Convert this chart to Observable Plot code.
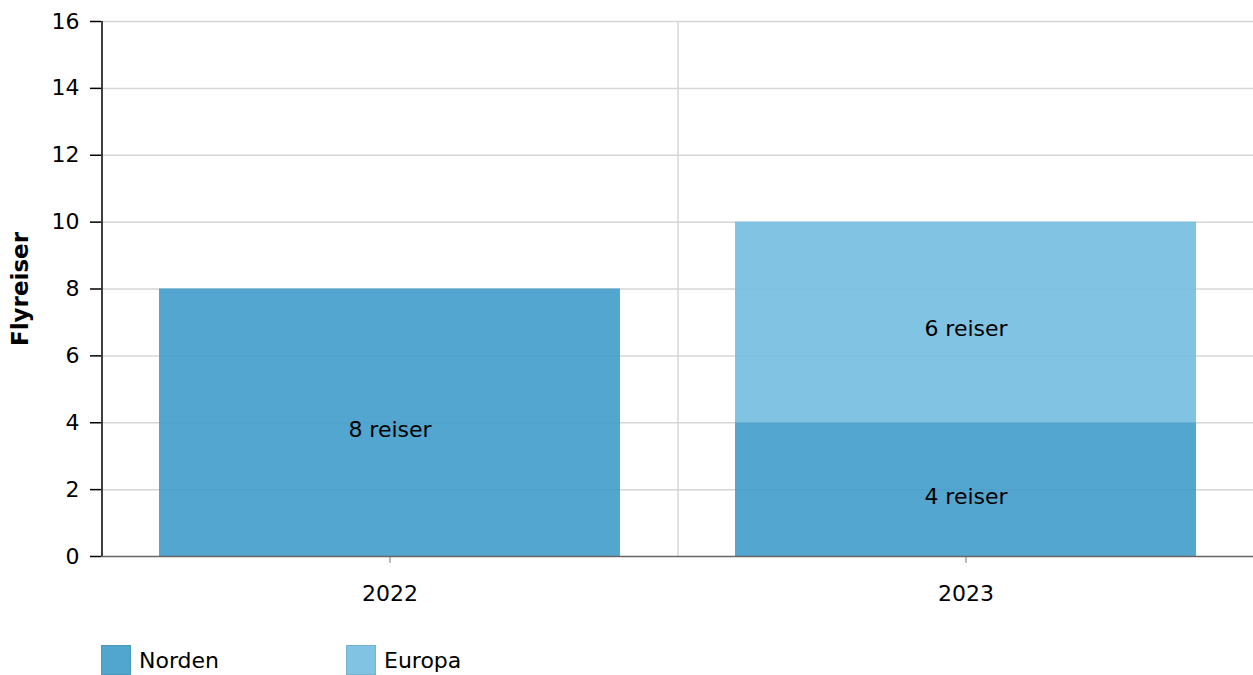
<!DOCTYPE html>
<html>
<head>
<meta charset="utf-8">
<script src="https://cdn.jsdelivr.net/npm/d3@7"></script>
<script src="https://cdn.jsdelivr.net/npm/@observablehq/plot@0.6"></script>
<style>
  html, body { margin: 0; padding: 0; background: #fff; }
  body { width: 1253px; height: 675px; overflow: hidden; font-family: "DejaVu Sans", Verdana, sans-serif; }
  #chart svg { display: block; }
  #legend { display: flex; align-items: center; margin-left: 101px; margin-top: 15px; font-size: 22px; color: #000; }
  .item { display: flex; align-items: center; width: 245px; }
  .sw { width: 30px; height: 30px; margin-right: 8px; box-sizing: border-box; border: 1.5px solid; }
</style>
</head>
<body>
<div id="chart"></div>
<div id="legend"></div>
<script>
const years = ["2022", "2023"];
const series = ["Norden", "Europa"];
const norden = [8, 4];
const europa = [0, 6];
const yTicks = [0, 2, 4, 6, 8, 10, 12, 14, 16];
const colors = ["#3a9ac8", "#6fbbdf"];
const labelSuffix = " reiser";

const rows = [];
years.forEach((y, i) => {
  if (norden[i] > 0) rows.push({year: y, series: "Norden", value: norden[i]});
  if (europa[i] > 0) rows.push({year: y, series: "Europa", value: europa[i]});
});

const W = 1253, H = 630, mL = 101, mR = 0, mT = 21, mB = 74;
const step = (W - mL - mR) / years.length;

const stackOpts = {x: "year", y: "value", z: "series", order: series};

const chart = Plot.plot({
  width: W, height: H,
  marginLeft: mL, marginRight: mR, marginTop: mT, marginBottom: mB,
  style: {fontFamily: "'DejaVu Sans', Verdana, sans-serif", fontSize: "22px", color: "#000", background: "#fff"},
  x: {domain: years, paddingInner: 0.2, paddingOuter: 0.1, label: null},
  y: {domain: [0, 16], ticks: yTicks, label: null},
  color: {domain: series, range: colors},
  marks: [
    Plot.ruleY(yTicks.slice(1), {stroke: "#d6d6d6", strokeWidth: 1.5}),
    Plot.ruleX(years.slice(1), {dx: -step / 2, stroke: "#d6d6d6", strokeWidth: 1.5}),
    Plot.barY(rows, Plot.stackY({...stackOpts, fill: "series", fillOpacity: 0.88})),
    Plot.text(rows, Plot.stackY({...stackOpts, text: d => d.value + labelSuffix, dy: 7, fill: "#000", fontSize: 22})),
    Plot.axisY({ticks: yTicks, tickSize: 11, tickPadding: 11, stroke: "#000", strokeWidth: 1.5, fontSize: 22,
      label: "Flyreiser", labelAnchor: "center", labelArrow: "none", labelOffset: 90}),
    Plot.axisX({tickSize: 7, tickPadding: 22, stroke: "#777", fontSize: 22, label: null}),
    Plot.ruleY([0], {stroke: "#666", strokeWidth: 1.5}),
    Plot.ruleX(years.slice(0, 1), {dx: -step / 2, y1: 0, y2: 16, stroke: "#000", strokeWidth: 1.5})
  ]
});
chart.querySelectorAll("g[aria-label='y-axis label'] text").forEach(t => { t.style.fontWeight = "bold"; t.style.fontSize = "23px"; });
document.getElementById("chart").appendChild(chart);

const legend = document.getElementById("legend");
series.forEach((s, i) => {
  const item = document.createElement("div");
  item.className = "item";
  const sw = document.createElement("div");
  sw.className = "sw";
  sw.style.background = colors[i];
  sw.style.opacity = 0.88;
  sw.style.borderColor = d3.color(colors[i]).darker(0.3);
  const lab = document.createElement("span");
  lab.textContent = s;
  item.appendChild(sw); item.appendChild(lab);
  legend.appendChild(item);
});
</script>
</body>
</html>
